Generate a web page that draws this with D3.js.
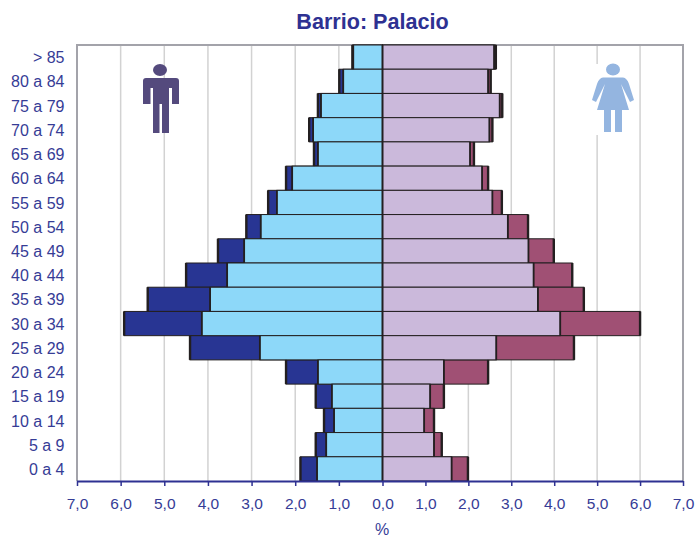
<!DOCTYPE html>
<html>
<head>
<meta charset="utf-8">
<script src="https://cdn.jsdelivr.net/npm/d3@7"></script>
<style>
html,body{margin:0;padding:0;background:#fff;overflow:hidden}
svg{display:block}
text{font-family:"Liberation Sans",Arial,sans-serif;fill:#363c96}
</style>
</head>
<body>
<svg id="chart" width="696" height="537"></svg>
<script>
const ageGroups = ["> 85","80 a 84","75 a 79","70 a 74","65 a 69","60 a 64","55 a 59","50 a 54","45 a 49","40 a 44","35 a 39","30 a 34","25 a 29","20 a 24","15 a 19","10 a 14","5 a 9","0 a 4"];
const menInner   = [0.67,0.90,1.41,1.59,1.48,2.07,2.42,2.79,3.17,3.56,3.95,4.14,2.81,1.48,1.16,1.11,1.29,1.50];
const menTotal   = [0.69,0.99,1.48,1.68,1.57,2.21,2.62,3.12,3.77,4.50,5.38,5.92,4.41,2.21,1.53,1.34,1.53,1.88];
const womenInner = [2.60,2.46,2.73,2.49,2.04,2.32,2.56,2.92,3.40,3.52,3.62,4.14,2.65,1.43,1.11,0.97,1.20,1.61];
const womenTotal = [2.64,2.52,2.79,2.56,2.13,2.46,2.78,3.39,3.99,4.42,4.69,6.00,4.46,2.46,1.43,1.20,1.38,1.99];
const xTicks = [-7,-6,-5,-4,-3,-2,-1,0,1,2,3,4,5,6,7];
const titleText = "Barrio: Palacio";
const xLabel = "%";

const svg = d3.select("#chart");
const L = 77, C = 382.5, R = 683, T = 45, B = 481;
const x = d3.scaleLinear().domain([-7,0,7]).range([L,C,R]);
const y = d3.scaleBand().domain(ageGroups).range([T,B]).padding(0);
const ink = "#231f20";

// gridlines
svg.append("g").selectAll("line").data(xTicks.filter(d=>Math.abs(d)<7&&d!==0)).join("line")
  .attr("x1",d=>x(d)).attr("x2",d=>x(d)).attr("y1",T).attr("y2",B)
  .attr("stroke","#d2d2d2").attr("stroke-width",1.5);

// plot frame
svg.append("path").attr("d",`M${L},${B}V${T}H${R}V${B}`).attr("fill","none")
  .attr("stroke","#a3a3aa").attr("stroke-width",2);

// woman icon backing and icons
svg.append("rect").attr("x",592).attr("y",64).attr("width",42).attr("height",71).attr("fill","#fff");
const man = svg.append("g").attr("fill","#544a7d");
man.append("ellipse").attr("cx",160).attr("cy",70).attr("rx",7).attr("ry",6);
man.append("path").attr("d","M146,78H176Q179,78 179,81V104H172V88H169V133H162V104H159.5V133H153V88H150.5V104H143V81Q143,78 146,78Z");
const woman = svg.append("g").attr("fill","#94b5e0");
woman.append("ellipse").attr("cx",613).attr("cy",69.5).attr("rx",7).attr("ry",6);
woman.append("path").attr("d","M603,77.5H623Q627,78 629,84L634,100L630,102L621,84L629,110H622V132H615V110H611V132H604V110H597L605,84L596,102L592,100L597,84Q599,78 603,77.5Z");

// bars
function bars(cls, total, inner, sign, darkCol, lightCol){
  const g = svg.append("g").attr("class",cls);
  g.selectAll("rect.outer").data(ageGroups).join("rect").attr("class","outer")
    .attr("x",(d,i)=>Math.min(x(0),x(sign*total[i])))
    .attr("width",(d,i)=>Math.abs(x(sign*total[i])-x(0)))
    .attr("y",d=>y(d)).attr("height",y.bandwidth())
    .attr("fill",darkCol).attr("stroke",ink).attr("stroke-width",1);
  g.selectAll("rect.inner").data(ageGroups).join("rect").attr("class","inner")
    .attr("x",(d,i)=>Math.min(x(0),x(sign*inner[i])))
    .attr("width",(d,i)=>Math.abs(x(sign*inner[i])-x(0)))
    .attr("y",d=>y(d)).attr("height",y.bandwidth())
    .attr("fill",lightCol).attr("stroke",ink).attr("stroke-width",1);
  // heavier vertical edges
  [total,inner].forEach((arr,k)=>{
    g.append("g").selectAll("line").data(ageGroups).join("line")
      .attr("x1",(d,i)=>x(sign*arr[i])).attr("x2",(d,i)=>x(sign*arr[i]))
      .attr("y1",d=>y(d)).attr("y2",d=>y(d)+y.bandwidth())
      .attr("stroke",ink).attr("stroke-width",k===0?2.4:1.8);
  });
}
bars("men",menTotal,menInner,-1,"#283593","#8dd8f9");
bars("women",womenTotal,womenInner,1,"#a05074","#cbb9db");

// centre line
svg.append("line").attr("x1",x(0)).attr("x2",x(0)).attr("y1",T).attr("y2",B)
  .attr("stroke",ink).attr("stroke-width",2);

// axes
const xAxis = svg.append("g").attr("transform",`translate(0,${B})`)
  .call(d3.axisBottom(x).tickValues(xTicks).tickSize(5).tickPadding(12)
    .tickFormat(d=>Math.abs(d).toFixed(1).replace(".",",")));
xAxis.select(".domain").attr("stroke","#2e3192").attr("stroke-width",2).attr("d",`M${L},0.5H${R}`);
xAxis.selectAll(".tick line").attr("stroke","#2e3192").attr("stroke-width",1.5);
xAxis.selectAll("text").attr("font-size",15.5).attr("font-family",null).style("fill","#363c96");

const yAxis = svg.append("g").attr("transform","translate(64.5,1)")
  .call(d3.axisLeft(y).tickSize(0).tickPadding(0));
yAxis.select(".domain").remove();
yAxis.selectAll("text").attr("font-size",16).attr("font-family",null).style("fill","#363c96");

svg.append("text").attr("x",372.5).attr("y",29).attr("text-anchor","middle")
  .attr("font-size",21.6).attr("font-weight","bold").style("fill","#2e3192").text(titleText);
svg.append("text").attr("x",382).attr("y",535).attr("text-anchor","middle")
  .attr("font-size",16).text(xLabel);
</script>
</body>
</html>
